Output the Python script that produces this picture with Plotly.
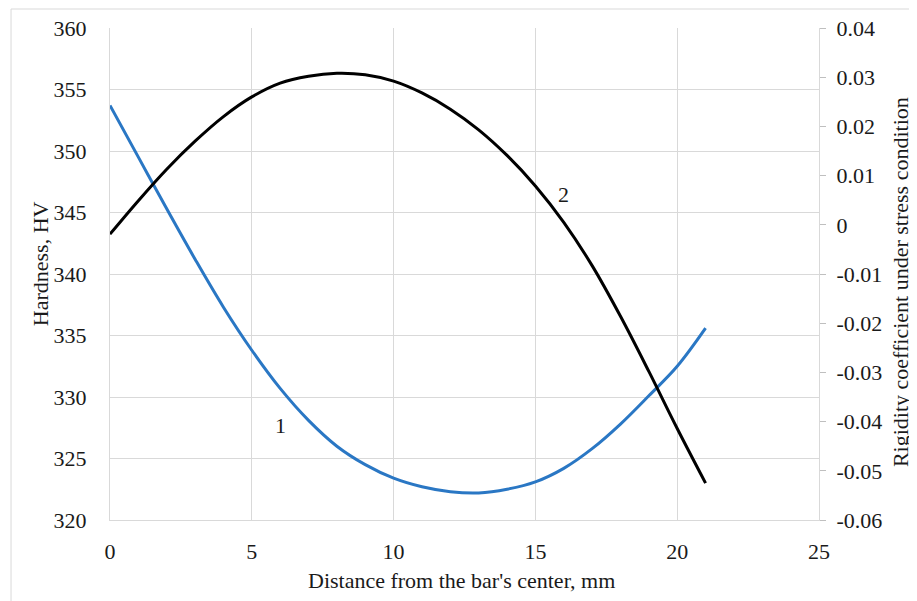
import plotly.graph_objects as go

distance_mm = [0, 1, 2, 3, 4, 5, 6, 7, 8, 9, 10, 11, 12, 13, 14, 15, 16, 17, 18, 19, 20, 21]
hardness_hv = [353.7, 349.5, 345.3, 341.2, 337.3, 333.8, 330.7, 328.1, 326.0, 324.5, 323.4,
               322.7, 322.3, 322.2, 322.5, 323.1, 324.2, 325.8, 327.8, 330.1, 332.5, 335.6]
rigidity = [-0.0019, 0.0049, 0.0113, 0.0170, 0.0220, 0.0260, 0.0288, 0.0302, 0.0308, 0.0305, 0.0292,
            0.0268, 0.0235, 0.0193, 0.0141, 0.0079, 0.0005, -0.0083, -0.0186, -0.0298, -0.0414, -0.0525]

x_ticks = [0, 5, 10, 15, 20, 25]
hv_ticks = [320, 325, 330, 335, 340, 345, 350, 355, 360]
rig_ticks = [-0.06, -0.05, -0.04, -0.03, -0.02, -0.01, 0, 0.01, 0.02, 0.03, 0.04]
rig_tick_text = ["-0.06", "-0.05", "-0.04", "-0.03", "-0.02", "-0.01", "0", "0.01", "0.02", "0.03", "0.04"]

FONT = "Liberation Serif, Times New Roman, serif"
GRID = "#d9d9d9"
TXT = "#1a1a1a"

fig = go.Figure()
fig.add_trace(go.Scatter(x=distance_mm, y=hardness_hv, mode="lines",
                         line=dict(color="#2a77c4", width=3, shape="spline", smoothing=1.0),
                         yaxis="y", showlegend=False))
fig.add_trace(go.Scatter(x=distance_mm, y=rigidity, mode="lines",
                         line=dict(color="#000000", width=3, shape="spline", smoothing=1.0),
                         yaxis="y2", showlegend=False))

# The browser page has an 8px body margin, so the figure is sized and placed to compensate.
fig.update_layout(
    width=909, height=593,
    margin=dict(l=102, r=98, t=20, b=81, autoexpand=False),
    paper_bgcolor="white", plot_bgcolor="white",
    font=dict(family=FONT, size=22, color=TXT),
    xaxis=dict(range=[0, 25], tickvals=x_ticks, showgrid=True, gridcolor=GRID, gridwidth=1,
               showline=True, linecolor=GRID, linewidth=1, zeroline=False,
               ticks="", ticklabelstandoff=12, tickfont=dict(size=22, family=FONT, color=TXT)),
    yaxis=dict(range=[320, 360], tickvals=hv_ticks, showgrid=True, gridcolor=GRID, gridwidth=1,
               showline=True, linecolor=GRID, linewidth=1, zeroline=False,
               ticks="", ticklabelstandoff=18, tickfont=dict(size=22, family=FONT, color=TXT)),
    yaxis2=dict(range=[-0.06, 0.04], tickvals=rig_ticks, ticktext=rig_tick_text, overlaying="y",
                side="right", showgrid=False, zeroline=False, showline=True, linecolor=GRID,
                linewidth=1, ticks="outside", ticklen=6, tickcolor="#bfbfbf",
                ticklabelstandoff=6, tickfont=dict(size=22, family=FONT, color=TXT)),
    shapes=[dict(type="rect", xref="paper", yref="paper", x0=-0.1396, x1=1.2, y0=-0.25, y1=1.0386,
                 line=dict(color=GRID, width=1), fillcolor="rgba(0,0,0,0)", layer="below")],
    annotations=[
        dict(text="Distance from the bar's center, mm", xref="paper", yref="paper", x=0.496, y=-0.122,
             xanchor="center", yanchor="middle", showarrow=False, font=dict(size=22, family=FONT, color=TXT)),
        dict(text="Hardness, HV", xref="paper", yref="paper", x=-0.0987, y=0.52, textangle=-90,
             xanchor="center", yanchor="middle", showarrow=False, font=dict(size=22, family=FONT, color=TXT)),
        dict(text="Rigidity coefficient under stress condition", xref="paper", yref="paper", x=1.116, y=0.484,
             textangle=-90, xanchor="center", yanchor="middle", showarrow=False,
             font=dict(size=22, family=FONT, color=TXT)),
        dict(text="1", x=6.0, y=327.7, xref="x", yref="y", showarrow=False,
             font=dict(size=22, family=FONT, color=TXT)),
        dict(text="2", x=15.99, y=0.0061, xref="x", yref="y2", showarrow=False,
             font=dict(size=22, family=FONT, color=TXT)),
    ],
)

fig.write_html("out.html")
